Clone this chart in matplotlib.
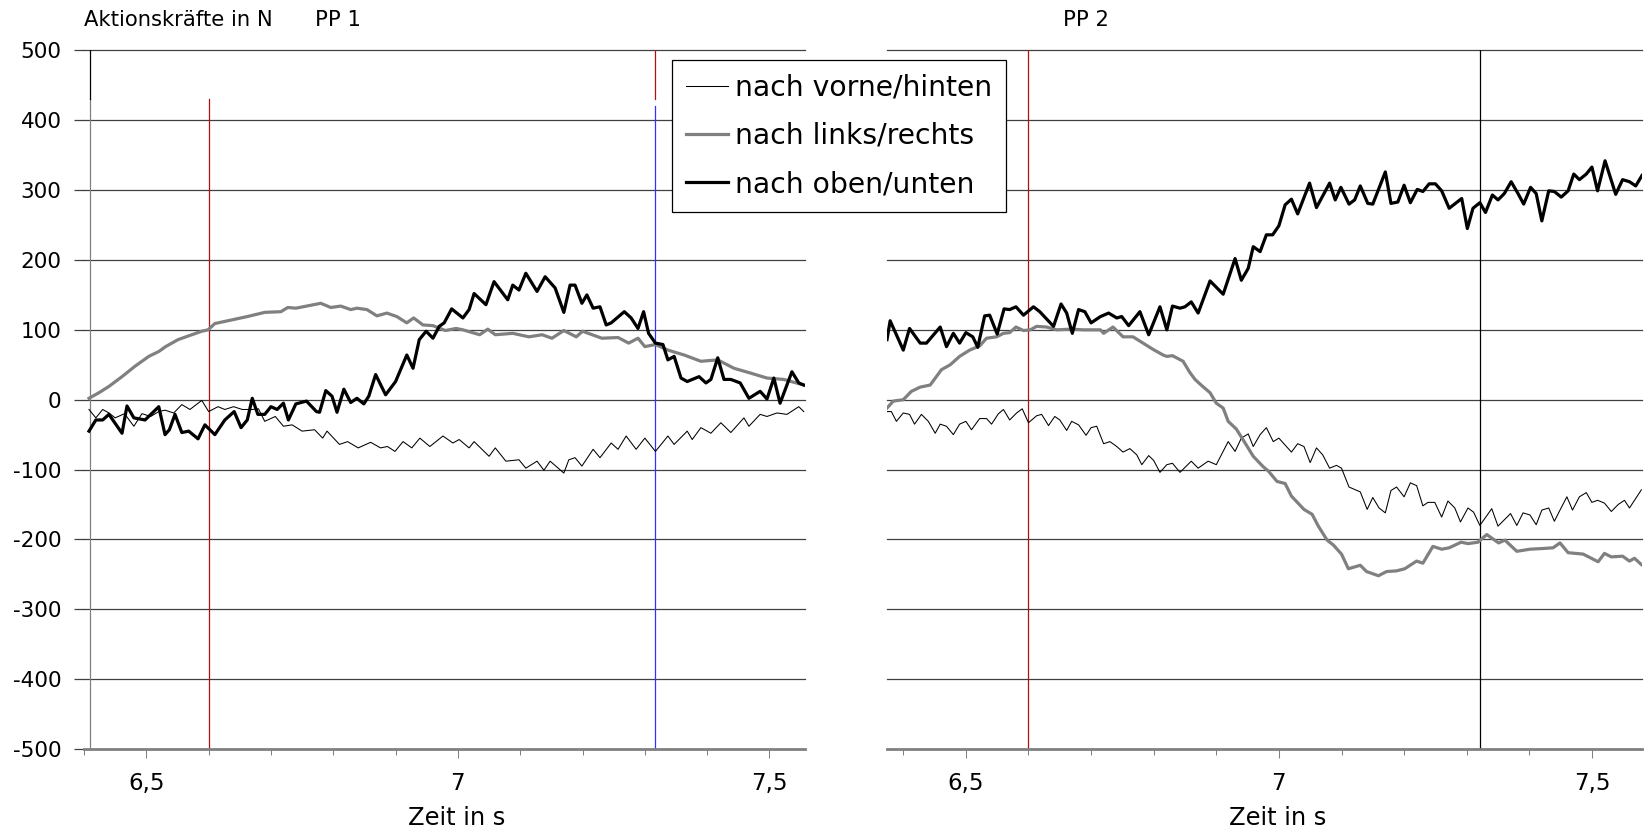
"""Aktionskräfte PP 1 / PP 2 – two panels with three force components."""

import matplotlib
matplotlib.use("Agg")
import matplotlib.pyplot as plt

# ---- PP 1 -----------------------------------------------------------------
t_vh1 = [6.408, 6.419, 6.43, 6.44, 6.45, 6.465, 6.48, 6.493, 6.507, 6.52, 6.53, 6.544,
         6.557, 6.57, 6.589, 6.6, 6.615, 6.626, 6.64, 6.654, 6.67, 6.68, 6.69, 6.707,
         6.72, 6.734, 6.75, 6.77, 6.783, 6.79, 6.81, 6.823, 6.84, 6.86, 6.876, 6.887,
         6.899, 6.912, 6.926, 6.939, 6.955, 6.976, 6.992, 7.002, 7.018, 7.026, 7.05,
         7.06, 7.077, 7.098, 7.109, 7.127, 7.138, 7.148, 7.17, 7.178, 7.188, 7.199,
         7.217, 7.228, 7.246, 7.257, 7.27, 7.286, 7.3, 7.317, 7.337, 7.347, 7.368,
         7.376, 7.39, 7.406, 7.422, 7.438, 7.459, 7.467, 7.485, 7.496, 7.512, 7.528,
         7.547, 7.555]
f_vh1 = [-14, -26, -14, -19, -26, -20, -38, -20, -24, -17, -15, -19,
         -7, -14, -1, -17, -10, -14, -10, -14, -14, -13, -31, -24,
         -38, -36, -45, -43, -55, -45, -64, -60, -69, -61, -69, -67,
         -74, -60, -69, -55, -67, -52, -62, -57, -69, -60, -81,
         -69, -88, -86, -98, -88, -101, -88, -105, -86, -83, -95,
         -71, -83, -62, -71, -52, -71, -55, -74, -52, -64, -45,
         -57, -40, -48, -33, -47, -26, -38, -21, -24, -19, -21,
         -10, -17]

t_lr1 = [6.408, 6.424, 6.44, 6.461, 6.482, 6.504, 6.52, 6.531, 6.551, 6.573, 6.589, 6.599,
         6.61, 6.636, 6.662, 6.69, 6.716, 6.727, 6.74, 6.78, 6.796, 6.812, 6.828, 6.838,
         6.854, 6.87, 6.886, 6.902, 6.918, 6.929, 6.944, 6.96, 6.98, 6.997, 7.008, 7.035,
         7.048, 7.06, 7.088, 7.114, 7.135, 7.151, 7.17, 7.19, 7.2, 7.231, 7.257, 7.274,
         7.289, 7.3, 7.317, 7.337, 7.363, 7.39, 7.417, 7.443, 7.47, 7.496, 7.523, 7.555]
f_lr1 = [2, 10, 19, 33, 48, 62, 69, 76, 86, 93, 98, 100,
         109, 114, 119, 125, 126, 132, 131, 138, 132, 134, 129, 131,
         129, 120, 124, 119, 110, 117, 107, 106, 99, 102, 100, 93,
         101, 93, 95, 90, 93, 88, 99, 90, 98, 88, 89, 81,
         88, 76, 79, 71, 64, 55, 57, 45, 38, 31, 29, 21]

t_ou1 = [6.408, 6.419, 6.43, 6.44, 6.461, 6.469, 6.48, 6.498, 6.52, 6.53, 6.537, 6.546,
         6.557, 6.568, 6.583, 6.594, 6.61, 6.626, 6.641, 6.652, 6.662, 6.67, 6.679, 6.69,
         6.70, 6.71, 6.72, 6.728, 6.74, 6.757, 6.773, 6.778, 6.788, 6.798, 6.806, 6.817,
         6.828, 6.838, 6.849, 6.857, 6.868, 6.884, 6.90, 6.918, 6.928, 6.938, 6.949, 6.96,
         6.97, 6.978, 6.99, 7.008, 7.018, 7.026, 7.045, 7.058, 7.08, 7.088, 7.098, 7.109,
         7.127, 7.14, 7.156, 7.17, 7.18, 7.188, 7.199, 7.207, 7.217, 7.228, 7.238, 7.246,
         7.267, 7.278, 7.289, 7.298, 7.306, 7.317, 7.329, 7.337, 7.347, 7.358, 7.368, 7.387,
         7.398, 7.406, 7.417, 7.427, 7.438, 7.453, 7.467, 7.485, 7.496, 7.507, 7.517, 7.536,
         7.547, 7.555]
f_ou1 = [-45, -29, -29, -21, -48, -9, -26, -29, -10, -50, -43, -21,
         -47, -45, -56, -36, -50, -29, -17, -40, -29, 2, -21, -21,
         -10, -14, -5, -29, -6, -2, -17, -18, 13, 5, -18, 15,
         -4, 2, -6, 5, 36, 7, 26, 64, 45, 86, 98, 88,
         105, 110, 130, 117, 129, 152, 136, 169, 143, 164, 157, 181,
         155, 176, 160, 125, 164, 164, 138, 150, 131, 133, 107, 110,
         126, 117, 102, 126, 95, 81, 79, 57, 62, 31, 26, 33,
         24, 29, 60, 29, 29, 24, 2, 12, 1, 31, -5, 40,
         24, 21]

# ---- PP 2 -----------------------------------------------------------------
t_vh2 = [6.374, 6.381, 6.389, 6.40, 6.41, 6.418, 6.429, 6.44, 6.451, 6.459, 6.469, 6.48,
         6.49, 6.5, 6.509, 6.522, 6.533, 6.541, 6.552, 6.56, 6.57, 6.581, 6.59, 6.6,
         6.613, 6.621, 6.632, 6.642, 6.65, 6.661, 6.669, 6.68, 6.692, 6.7, 6.709, 6.72,
         6.73, 6.741, 6.751, 6.762, 6.773, 6.781, 6.792, 6.8, 6.81, 6.821, 6.83, 6.842,
         6.86, 6.871, 6.887, 6.9, 6.919, 6.93, 6.94, 6.951, 6.959, 6.97, 6.98, 6.991,
         7.0, 7.02, 7.03, 7.04, 7.05, 7.06, 7.07, 7.081, 7.092, 7.1, 7.112, 7.13,
         7.141, 7.15, 7.16, 7.17, 7.179, 7.188, 7.2, 7.21, 7.22, 7.23, 7.238, 7.249,
         7.26, 7.27, 7.281, 7.29, 7.302, 7.311, 7.321, 7.34, 7.35, 7.37, 7.38, 7.39,
         7.401, 7.411, 7.42, 7.431, 7.44, 7.449, 7.46, 7.469, 7.48, 7.491, 7.5, 7.509,
         7.52, 7.531, 7.542, 7.552, 7.56, 7.579]
f_vh2 = [-17, -17, -31, -19, -21, -35, -21, -31, -48, -35, -38, -50,
         -35, -31, -43, -27, -27, -35, -20, -14, -29, -19, -13, -33,
         -23, -21, -37, -24, -29, -44, -31, -36, -51, -40, -38, -63,
         -60, -67, -75, -70, -79, -93, -80, -87, -104, -93, -91, -104,
         -88, -98, -88, -93, -60, -74, -55, -49, -67, -50, -40, -60,
         -55, -75, -63, -67, -90, -69, -79, -98, -94, -98, -125, -132,
         -157, -140, -155, -162, -130, -125, -139, -119, -123, -152, -147, -147,
         -168, -145, -155, -175, -155, -161, -180, -156, -181, -163, -180, -162,
         -165, -179, -158, -155, -174, -158, -139, -158, -139, -133, -147, -144,
         -148, -160, -150, -144, -155, -129]

t_lr2 = [6.374, 6.384, 6.40, 6.413, 6.427, 6.443, 6.461, 6.475, 6.49, 6.506, 6.522, 6.533,
         6.549, 6.56, 6.57, 6.58, 6.592, 6.603, 6.613, 6.629, 6.645, 6.667, 6.688, 6.715,
         6.72, 6.735, 6.751, 6.767, 6.783, 6.799, 6.815, 6.821, 6.83, 6.847, 6.857, 6.866,
         6.877, 6.89, 6.9, 6.911, 6.919, 6.932, 6.946, 6.959, 6.975, 6.983, 6.997, 7.01,
         7.02, 7.04, 7.053, 7.063, 7.077, 7.087, 7.1, 7.111, 7.13, 7.14, 7.159, 7.172,
         7.188, 7.201, 7.22, 7.23, 7.246, 7.26, 7.272, 7.291, 7.302, 7.318, 7.332, 7.351,
         7.361, 7.38, 7.401, 7.422, 7.438, 7.449, 7.462, 7.486, 7.51, 7.52, 7.531, 7.549,
         7.56, 7.568, 7.579]
f_lr2 = [-12, -2, 0, 12, 18, 21, 43, 50, 62, 71, 77, 88,
         90, 95, 96, 104, 99, 100, 105, 104, 100, 101, 100, 100,
         95, 104, 90, 90, 81, 72, 64, 62, 63, 55, 40, 29,
         20, 10, -5, -12, -31, -42, -62, -81, -96, -102, -117, -120,
         -138, -157, -164, -181, -201, -208, -221, -242, -237, -246, -252, -246,
         -245, -242, -231, -234, -210, -214, -212, -204, -206, -204, -193, -205,
         -201, -217, -214, -213, -212, -205, -219, -221, -232, -220, -225, -224,
         -231, -227, -236]

t_ou2 = [6.374, 6.379, 6.40, 6.41, 6.427, 6.437, 6.459, 6.469, 6.48, 6.49, 6.5, 6.511,
         6.519, 6.53, 6.538, 6.55, 6.561, 6.57, 6.58, 6.592, 6.608, 6.618, 6.64, 6.652,
         6.661, 6.67, 6.68, 6.69, 6.7, 6.715, 6.728, 6.741, 6.749, 6.76, 6.778, 6.792,
         6.81, 6.821, 6.83, 6.842, 6.85, 6.86, 6.871, 6.89, 6.911, 6.93, 6.94, 6.951,
         6.959, 6.97, 6.98, 6.99, 7.0, 7.01, 7.02, 7.03, 7.049, 7.06, 7.081, 7.09,
         7.099, 7.112, 7.121, 7.13, 7.142, 7.15, 7.17, 7.179, 7.19, 7.2, 7.21, 7.221,
         7.23, 7.24, 7.25, 7.26, 7.272, 7.292, 7.301, 7.31, 7.321, 7.33, 7.341, 7.35,
         7.36, 7.371, 7.382, 7.391, 7.402, 7.411, 7.42, 7.431, 7.44, 7.451, 7.462, 7.471,
         7.48, 7.491, 7.5, 7.509, 7.521, 7.538, 7.549, 7.56, 7.57, 7.58]
f_ou2 = [86, 113, 71, 102, 81, 81, 104, 76, 95, 81, 96, 90,
         75, 120, 121, 94, 130, 129, 133, 121, 133, 126, 105, 137,
         124, 95, 129, 126, 110, 119, 124, 117, 119, 106, 126, 93,
         133, 100, 134, 131, 133, 140, 124, 170, 151, 202, 171, 188,
         219, 212, 236, 236, 249, 279, 287, 266, 310, 275, 310, 286,
         304, 280, 286, 306, 281, 280, 326, 281, 283, 307, 282, 301,
         298, 309, 309, 299, 274, 288, 245, 274, 282, 268, 293, 286,
         295, 312, 295, 280, 304, 295, 256, 299, 298, 290, 299, 323,
         315, 323, 333, 299, 342, 294, 315, 312, 306, 321]

labels = ["nach vorne/hinten", "nach links/rechts", "nach oben/unten"]
y_ticks = [-500, -400, -300, -200, -100, 0, 100, 200, 300, 400, 500]
x_major = [6.5, 7.0, 7.5]
x_major_labels = ["6,5", "7", "7,5"]
x_minor = [6.4, 6.6, 6.7, 6.8, 6.9, 7.1, 7.2, 7.3, 7.4]

W, H = 1646, 833
GRID = "#404040"
AXIS = "#808080"
RED = "#b01010"
BLUE = "#3030ff"


def style_axes(ax, xlim, show_y):
    ax.set_xlim(*xlim)
    ax.set_ylim(-500, 500)
    for side in ("top", "right", "left"):
        ax.spines[side].set_visible(False)
    ax.spines["bottom"].set_color(AXIS)
    ax.spines["bottom"].set_linewidth(2.0)
    for v in y_ticks[1:]:
        ax.axhline(v, color=GRID, lw=0.9, zorder=1, clip_on=False)

    ax.set_xticks(x_major)
    ax.set_xticklabels(x_major_labels)
    ax.set_xticks(x_minor, minor=True)
    ax.tick_params(axis="x", which="major", length=6.5, width=0.75, color=AXIS,
                   pad=10, labelsize=16.5)
    ax.tick_params(axis="x", which="minor", length=4.3, width=0.75, color=AXIS)

    ax.set_yticks(y_ticks)
    if show_y:
        ax.tick_params(axis="y", length=7.2, width=0.9, color=GRID, pad=8.9,
                       labelsize=15.5)
    else:
        ax.tick_params(axis="y", left=False, labelleft=False)

    ax.set_xlabel("Zeit in s", fontsize=17.4)
    ax.xaxis.set_label_coords(0.517, -0.0815)


def draw_series(ax, tv, fv, tl, fl, to, fo):
    h1, = ax.plot(tv, fv, color="black", lw=0.75, zorder=3)
    h2, = ax.plot(tl, fl, color=AXIS, lw=2.3, zorder=4)
    h3, = ax.plot(to, fo, color="black", lw=2.3, zorder=5)
    return [h1, h2, h3]


def main() -> None:
    plt.rcParams["font.family"] = ["DejaVu Sans"]
    plt.rcParams["axes.unicode_minus"] = False
    fig = plt.figure(figsize=(W / 100, H / 100), dpi=100)

    bottom = (H - 749) / H
    height = (749 - 50.4) / H
    ax1 = fig.add_axes([84 / W, bottom, (805 - 84) / W, height])
    ax2 = fig.add_axes([887 / W, bottom, (1642 - 887) / W, height])

    style_axes(ax1, (6.409, 7.557), True)
    style_axes(ax2, (6.374, 7.580), False)

    # left axis line: black stub on top, grey below
    ax1.axvline(6.409, ymin=0.0, ymax=0.93, color=AXIS, lw=0.9, zorder=2)
    ax1.axvline(6.409, ymin=0.93, ymax=1.0, color="black", lw=0.9, zorder=2)

    # marker lines
    ax1.axvline(6.6, ymax=0.93, color=RED, lw=0.9, zorder=2)
    ax1.axvline(7.317, ymax=0.92, color=BLUE, lw=0.9, zorder=2)
    ax1.axvline(7.317, ymin=0.93, color=RED, lw=0.9, zorder=2)
    ax2.axvline(6.6, color=RED, lw=0.9, zorder=2)
    ax2.axvline(7.321, color="black", lw=0.9, zorder=2)

    handles = draw_series(ax1, t_vh1, f_vh1, t_lr1, f_lr1, t_ou1, f_ou1)
    draw_series(ax2, t_vh2, f_vh2, t_lr2, f_lr2, t_ou2, f_ou2)

    base = 1 - 26.5 / H
    fig.text(84 / W, base, "Aktionskräfte in N", fontsize=15.2, va="baseline")
    fig.text(315 / W, base, "PP 1", fontsize=15.2, va="baseline")
    fig.text(1063 / W, base, "PP 2", fontsize=15.2, va="baseline")

    leg = fig.legend(handles, labels, loc="upper left",
                     bbox_to_anchor=(672 / W, 1 - 60 / H), borderaxespad=0,
                     fontsize=20.3, handlelength=1.5, handletextpad=0.25,
                     borderpad=0.48, labelspacing=0.72, fancybox=False,
                     framealpha=1, edgecolor="black")
    leg.get_frame().set_linewidth(0.9)

    fig.savefig("out.png", dpi=100)


if __name__ == "__main__":
    main()
